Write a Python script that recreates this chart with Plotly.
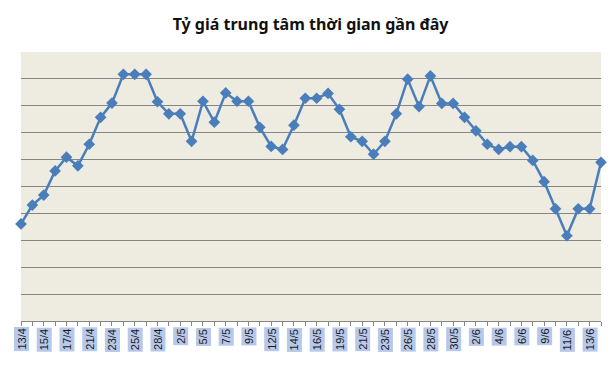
import plotly.graph_objects as go

dates = ["13/4", "14/4", "15/4", "16/4", "17/4", "20/4", "21/4", "22/4", "23/4", "24/4",
         "25/4", "27/4", "28/4", "29/4", "2/5", "4/5", "5/5", "6/5", "7/5", "8/5",
         "9/5", "11/5", "12/5", "13/5", "14/5", "15/5", "16/5", "18/5", "19/5", "20/5",
         "21/5", "22/5", "23/5", "25/5", "26/5", "27/5", "28/5", "29/5", "30/5", "1/6",
         "2/6", "3/6", "4/6", "5/6", "6/6", "8/6", "9/6", "10/6", "11/6", "12/6",
         "13/6", "14/6"]

rate = [3.61, 4.31, 4.68, 5.58, 6.09, 5.77, 6.57, 7.57, 8.10, 9.17,
        9.17, 9.17, 8.15, 7.70, 7.70, 6.68, 8.17, 7.39, 8.48, 8.17,
        8.17, 7.20, 6.49, 6.38, 7.28, 8.28, 8.28, 8.46, 7.87, 6.85,
        6.68, 6.20, 6.68, 7.70, 8.99, 7.97, 9.11, 8.09, 8.09, 7.57,
        7.07, 6.57, 6.38, 6.48, 6.48, 5.97, 5.18, 4.17, 3.17, 4.17,
        4.17, 5.90]

tick_labels = dates[0:51:2]

fig = go.Figure()
fig.add_trace(go.Scatter(
    x=dates, y=rate, mode="lines+markers",
    line=dict(color="#4A7EBB", width=2.5),
    marker=dict(symbol="diamond", size=9, color="#4A7EBB"),
    cliponaxis=False, hoverinfo="x+y",
))

for lab in tick_labels:
    fig.add_annotation(
        x=lab, y=0, xref="x", yref="paper", yanchor="top", xanchor="center",
        yshift=-6, text=lab, textangle=-90, showarrow=False,
        bgcolor="#b7c8ea", borderpad=1,
        font=dict(family="Liberation Sans, Arial", size=11, color="#1a1a1a"),
    )

fig.update_layout(
    width=615, height=368,
    margin=dict(l=21, r=14, t=52, b=47),
    paper_bgcolor="white", plot_bgcolor="#EEEBE0",
    showlegend=False,
    title=dict(text="<b>Tỷ giá trung tâm thời gian gần đây</b>", x=0.505, xanchor="center",
               y=0.935, yanchor="middle",
               font=dict(family="Noto Sans, Open Sans", size=16, color="#111111")),
    xaxis=dict(type="category", range=[0, len(dates) - 1], showgrid=False,
               showline=True, linecolor="#868686", linewidth=1.3,
               ticks="outside", ticklen=4, tickcolor="#868686", tickwidth=1,
               tickmode="array", tickvals=dates, ticktext=[""] * len(dates),
               showticklabels=False, zeroline=False, fixedrange=True),
    yaxis=dict(range=[0, 10], dtick=1, showgrid=True, gridcolor="#868686", gridwidth=1.3,
               showticklabels=False, zeroline=False, showline=False, fixedrange=True),
)

fig.write_html("out.html", config={"displayModeBar": False},
               post_script="document.body.style.margin='0px';")
